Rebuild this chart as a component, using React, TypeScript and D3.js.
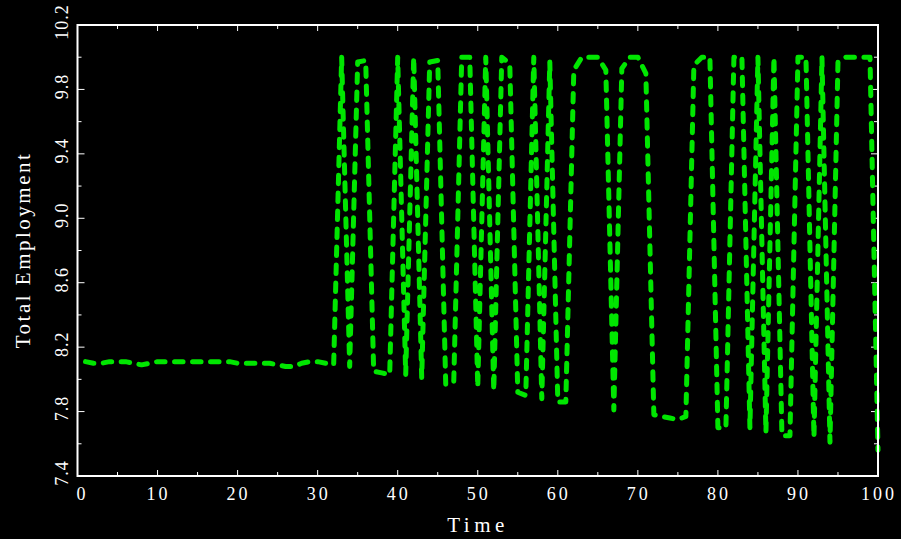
import React from "react";
import * as d3 from "d3";

const W = 901;
const H = 539;

// Total Employment series, one value per time unit starting at t = 1
const startTime = 1;
const timeStep = 1;
const employment = [
  8.11, 8.10, 8.10, 8.11, 8.11, 8.11, 8.10, 8.09, 8.10, 8.11,
  8.11, 8.11, 8.11, 8.11, 8.11, 8.11, 8.11, 8.11, 8.11, 8.10,
  8.10, 8.10, 8.10, 8.10, 8.09, 8.08, 8.08, 8.10, 8.11, 8.11,
  8.10, 8.09, 10.0, 8.08, 9.97, 9.98, 8.05, 8.04, 8.03, 10.0,
  8.03, 10.0, 8.01, 9.97, 9.98, 7.97, 7.98, 10.0, 10.0, 7.95,
  10.0, 7.93, 10.0, 9.96, 7.92, 7.90, 10.0, 7.88, 9.97, 7.86,
  7.86, 9.92, 10.0, 10.0, 10.0, 9.92, 7.81, 9.93, 10.0, 10.0,
  9.90, 7.78, 7.77, 7.76, 7.75, 7.77, 9.95, 10.0, 10.0, 7.70,
  7.70, 10.0, 10.0, 7.70, 10.0, 7.67, 10.0, 7.65, 7.65, 10.0,
  10.0, 7.64, 10.0, 7.61, 9.97, 10.0, 10.0, 10.0, 10.0, 7.56,
];

const xTickValues = [0, 10, 20, 30, 40, 50, 60, 70, 80, 90, 100];
const xTickLabels = ["0", "10", "20", "30", "40", "50", "60", "70", "80", "90", "100"];
const yTickValues = [7.4, 7.8, 8.2, 8.6, 9.0, 9.4, 9.8, 10.2];
const yTickLabels = ["7.4", "7.8", "8.2", "8.6", "9.0", "9.4", "9.8", "10.2"];

const xTitle = "Time";
const yTitle = "Total Employment";

const FONT = "'Liberation Serif', 'DejaVu Serif', serif";
const LINE_COLOR = "#00e600";

export default function App() {
  const left = 77.5;
  const right = 878;
  const top = 25;
  const bottom = 476;

  const x = d3.scaleLinear().domain([0, 100]).range([left, right]);
  const y = d3.scaleLinear().domain([7.4, 10.2]).range([bottom, top]);

  const data = employment.map((v, i) => ({ t: startTime + i * timeStep, v }));
  const line = d3
    .line<{ t: number; v: number }>()
    .x((d) => x(d.t))
    .y((d) => y(d.v));

  const xMinor = d3.range(0, 100.001, 5);
  const yMinor = d3.range(7.4, 10.2001, 0.2);
  const isMajorX = (v: number) => Math.abs(v / 10 - Math.round(v / 10)) < 1e-6;
  const isMajorY = (v: number) => {
    const k = (v - 7.4) / 0.4;
    return Math.abs(k - Math.round(k)) < 1e-6;
  };

  return (
    <div style={{ position: "absolute", left: 0, top: 0, width: W, height: H }}>
      <svg width={W} height={H} style={{ display: "block" }}>
        <rect x={0} y={0} width={W} height={H} fill="#000" />

        {/* ticks */}
        {xMinor.map((v, i) => {
          const len = isMajorX(v) ? 6 : 4;
          return (
            <g key={"xt" + i} stroke="#fff" strokeWidth={1}>
              <line x1={x(v)} x2={x(v)} y1={bottom} y2={bottom - len} />
              <line x1={x(v)} x2={x(v)} y1={top} y2={top + len} />
            </g>
          );
        })}
        {yMinor.map((v, i) => {
          const len = isMajorY(v) ? 7 : 4;
          return (
            <g key={"yt" + i} stroke="#fff" strokeWidth={1}>
              <line x1={left} x2={left + len} y1={y(v)} y2={y(v)} />
              <line x1={right} x2={right - len} y1={y(v)} y2={y(v)} />
            </g>
          );
        })}

        {/* data line */}
        <path
          d={line(data) || ""}
          fill="none"
          stroke={LINE_COLOR}
          strokeWidth={5}
          strokeDasharray="8.5 9.5"
          strokeLinecap="round"
          strokeLinejoin="round"
        />

        {/* frame */}
        <rect
          x={left}
          y={top}
          width={right - left}
          height={bottom - top}
          fill="none"
          stroke="#fff"
          strokeWidth={2}
        />

        {/* x tick labels */}
        {xTickValues.map((v, i) => (
          <text
            key={"xl" + i}
            x={x(v) + (i === 0 ? 5 : 1)}
            y={500}
            fill="#fff"
            fontFamily={FONT}
            fontSize={18}
            letterSpacing={3}
            textAnchor="middle"
          >
            {xTickLabels[i]}
          </text>
        ))}

        {/* y tick labels */}
        {yTickValues.map((v, i) => (
          <text
            key={"yl" + i}
            transform={`translate(68, ${y(v) - 3}) rotate(-90)`}
            fill="#fff"
            fontFamily={FONT}
            fontSize={18}
            letterSpacing={1}
            textAnchor="middle"
          >
            {yTickLabels[i]}
          </text>
        ))}

        {/* axis titles */}
        <text
          x={478}
          y={532}
          fill="#fff"
          fontFamily={FONT}
          fontSize={21}
          letterSpacing={4.5}
          textAnchor="middle"
        >
          {xTitle}
        </text>
        <text
          transform={`translate(30, 250) rotate(-90)`}
          fill="#fff"
          fontFamily={FONT}
          fontSize={21}
          letterSpacing={2.5}
          textAnchor="middle"
        >
          {yTitle}
        </text>
      </svg>
    </div>
  );
}
